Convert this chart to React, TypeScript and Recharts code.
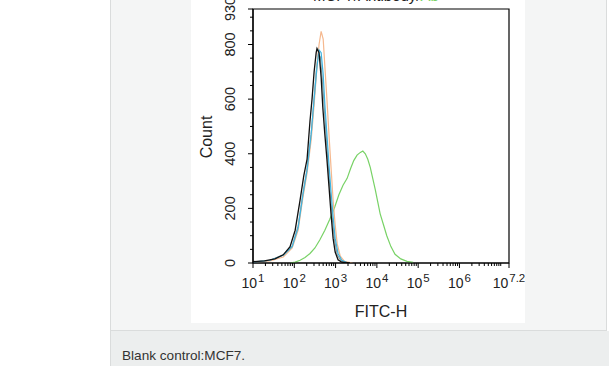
import React from "react";
import { LineChart, Line, XAxis, YAxis, ReferenceArea } from "recharts";

// FITC-H intensity (x) and Count (y) per sample histogram
const blackX = [10, 19, 34, 54, 79, 105, 138, 170, 204, 240, 269, 302, 339, 355, 398, 447, 490, 550, 617, 692, 776, 871, 977, 1148, 1413, 2239];
const blackY = [5, 8, 15, 30, 60, 120, 230, 320, 380, 520, 600, 700, 770, 785, 770, 680, 570, 470, 380, 280, 180, 90, 40, 12, 3, 0];

const orangeX = [10, 26, 54, 89, 124, 162, 204, 256, 302, 355, 398, 447, 501, 550, 617, 692, 776, 871, 977, 1096, 1300, 1640, 2600];
const orangeY = [3, 8, 22, 55, 120, 240, 330, 450, 580, 720, 800, 848, 820, 720, 600, 470, 350, 230, 140, 70, 25, 6, 0];

const cyanX = [10, 26, 54, 89, 124, 162, 204, 256, 302, 355, 398, 447, 501, 550, 617, 692, 776, 871, 977, 1148, 1413, 2000];
const cyanY = [3, 10, 28, 60, 130, 250, 340, 470, 600, 720, 780, 770, 690, 580, 470, 360, 260, 170, 90, 35, 10, 0];

const greyX = [10, 26, 54, 89, 124, 162, 204, 256, 302, 339, 380, 427, 479, 537, 603, 676, 758, 850, 955, 1096, 1350, 1900];
const greyY = [4, 10, 30, 62, 135, 255, 345, 470, 600, 700, 765, 755, 670, 560, 450, 340, 240, 150, 80, 30, 8, 0];

const greenX = [79, 105, 138, 182, 240, 316, 417, 550, 724, 955, 1202, 1514, 1905, 2300, 2754, 3311, 3981, 4571, 5248, 6026, 6918, 7943, 9120, 10471, 12023, 14454, 17378, 21878, 27542, 38019, 53703, 75858];
const greenY = [0, 3, 10, 20, 35, 55, 85, 120, 160, 205, 250, 285, 310, 345, 375, 395, 405, 410, 400, 380, 350, 310, 270, 225, 180, 140, 100, 60, 32, 15, 6, 2];

const MAJOR_X = [10, 100, 1000, 10000, 100000, 1000000, Math.pow(10, 7.2)];
const X_EXP_LABELS = ["1", "2", "3", "4", "5", "6", "7.2"];
const MAJOR_Y = [0, 200, 400, 600, 800, 930];

const minorX: number[] = [];
for (let n = 1; n <= 6; n++) {
  for (let k = 2; k <= 9; k++) minorX.push(k * Math.pow(10, n));
}
minorX.push(1e7);
const xTicks = [...MAJOR_X, ...minorX].sort((a, b) => a - b);

const minorY: number[] = [];
for (let v = 50; v < 930; v += 50) if (!MAJOR_Y.includes(v)) minorY.push(v);
const yTicks = [...MAJOR_Y, ...minorY].sort((a, b) => a - b);

const toPts = (xs: number[], ys: number[]) => xs.map((x, i) => ({ x, y: ys[i] }));

const FONT = "'Liberation Sans', Arial, sans-serif";

const XTick = (props: any) => {
  const { x, y, payload } = props;
  const v = payload.value;
  const idx = MAJOR_X.findIndex((m) => Math.abs(m - v) / m < 1e-6);
  const major = idx >= 0;
  return (
    <g>
      <line x1={x} x2={x} y1={y} y2={y + (major ? 5 : 3)} stroke="#000" strokeWidth={1} />
      {major && (
        <text x={x} y={y + 25} textAnchor="middle" fontSize={14} fill="#222" fontFamily={FONT}>
          <tspan>10</tspan>
          <tspan dx={1} dy={-6} fontSize={11.5}>{X_EXP_LABELS[idx]}</tspan>
        </text>
      )}
    </g>
  );
};

const YTick = (props: any) => {
  const { x, y, payload } = props;
  const v = payload.value;
  const major = MAJOR_Y.includes(v);
  return (
    <g>
      <line x1={x - (major ? 5 : 3)} x2={x} y1={y} y2={y} stroke="#000" strokeWidth={1} />
      {major && (
        <text x={0} y={0} dy="0.36em" transform={`translate(${x - 23},${y}) rotate(-90)`} textAnchor="middle" fontSize={14.5} fill="#222" fontFamily={FONT}>
          {v}
        </text>
      )}
    </g>
  );
};

export default function App() {
  return (
    <div style={{ position: "absolute", left: 0, top: 0, width: 609, height: 366, background: "#fff", overflow: "hidden" }}>
      <div style={{ position: "absolute", left: 110, top: 0, width: 497, height: 331, boxSizing: "border-box", background: "#f4f5f5", borderLeft: "1px solid #dadcdc", borderRight: "1px solid #dadcdc", borderBottom: "1px solid #dadcdc" }} />
      <div style={{ position: "absolute", left: 110, top: 331, width: 499, height: 35, boxSizing: "border-box", background: "#eceeee", borderLeft: "1px solid #dadcdc" }} />
      <div style={{ position: "absolute", left: 122, top: 348, fontFamily: FONT, fontSize: 13.6, color: "#333", whiteSpace: "nowrap", lineHeight: "16px" }}>
        Blank control:MCF7.
      </div>
      <div style={{ position: "absolute", left: 191, top: 0, width: 334, height: 323, background: "#fff" }}>
        <LineChart width={334} height={323} margin={{ top: 9, right: 16, bottom: 0, left: 0 }}>
          <XAxis
            dataKey="x"
            type="number"
            scale="log"
            domain={[10, Math.pow(10, 7.2)]}
            allowDataOverflow
            ticks={xTicks}
            interval={0}
            tick={<XTick />}
            tickLine={false}
            tickSize={0}
            tickMargin={0}
            height={60}
            axisLine={{ stroke: "#000", strokeWidth: 1.2 }}
          />
          <YAxis
            dataKey="y"
            type="number"
            domain={[0, 930]}
            allowDataOverflow
            ticks={yTicks}
            interval={0}
            tick={<YTick />}
            tickLine={false}
            tickSize={0}
            tickMargin={0}
            width={62}
            axisLine={{ stroke: "#000", strokeWidth: 1.2 }}
          />
          <ReferenceArea x1={10} x2={Math.pow(10, 7.2)} y1={0} y2={930} fill="none" fillOpacity={0} stroke="#000" strokeWidth={1.2} />
          <Line data={toPts(greenX, greenY)} dataKey="y" stroke="#78d266" strokeWidth={1.2} dot={false} isAnimationActive={false} />
          <Line data={toPts(greyX, greyY)} dataKey="y" stroke="#8f9c9c" strokeWidth={1.2} dot={false} isAnimationActive={false} />
          <Line data={toPts(orangeX, orangeY)} dataKey="y" stroke="#f5b88e" strokeWidth={1.2} dot={false} isAnimationActive={false} />
          <Line data={toPts(cyanX, cyanY)} dataKey="y" stroke="#3fb4e0" strokeWidth={1.2} dot={false} isAnimationActive={false} />
          <Line data={toPts(blackX, blackY)} dataKey="y" stroke="#111" strokeWidth={1.3} dot={false} isAnimationActive={false} />
          <text x={190} y={317} textAnchor="middle" fontSize={16} fontFamily={FONT} fill="#222">FITC-H</text>
          <text x={0} y={0} dy="0.36em" transform="translate(15,137) rotate(-90)" textAnchor="middle" fontSize={16} fontFamily={FONT} fill="#222">Count</text>
          <text x={122} y={0.5} textAnchor="start" fontSize={15} fontFamily={FONT} fill="#222">
            MCF7/Antibody/<tspan fill="#78d266">Ab</tspan>
          </text>
        </LineChart>
      </div>
    </div>
  );
}
